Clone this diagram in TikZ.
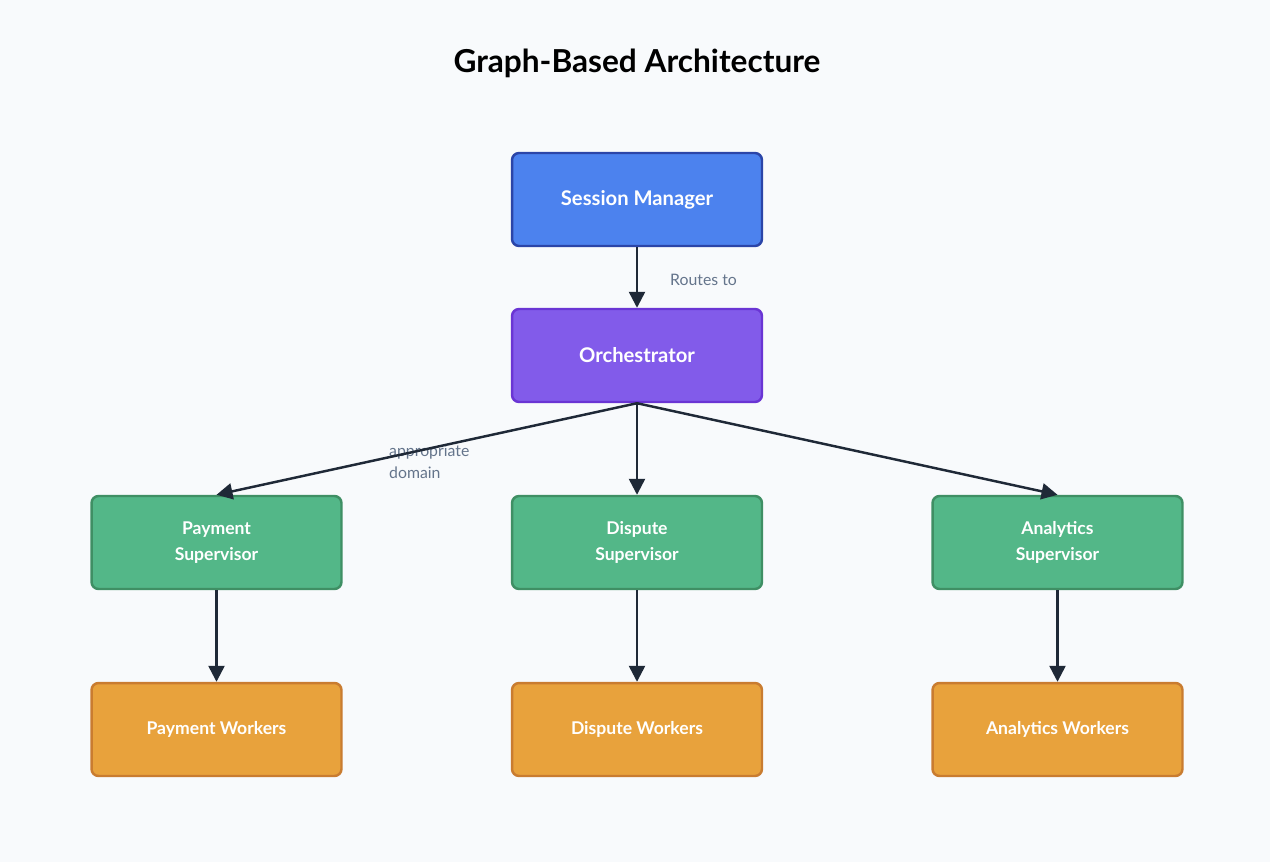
\documentclass[tikz,border=0pt]{standalone}
\usepackage{fontspec}
\setmainfont{Lato}
\usetikzlibrary{arrows.meta,positioning}
\definecolor{bgc}{HTML}{F8FAFC}
\definecolor{linec}{HTML}{1F2937}
\definecolor{labc}{HTML}{64748B}
\definecolor{blueF}{HTML}{4C82EE}
\definecolor{blueD}{HTML}{2B45A8}
\definecolor{purpF}{HTML}{825BEA}
\definecolor{purpD}{HTML}{6A35D4}
\definecolor{greenF}{HTML}{53B788}
\definecolor{greenD}{HTML}{3F8F64}
\definecolor{orF}{HTML}{E8A23C}
\definecolor{orD}{HTML}{C97C30}
\tikzset{
  box/.style={draw, line width=1.4pt, rounded corners=4pt, minimum width=5cm,
    minimum height=1.86cm, text=white, align=center, font=\bfseries},
  top/.style={box, fill=blueF, draw=blueD, font=\bfseries\fontsize{11.5}{14}\selectfont},
  orch/.style={box, fill=purpF, draw=purpD, font=\bfseries\fontsize{11.5}{14}\selectfont},
  sup/.style={box, fill=greenF, draw=greenD, font=\bfseries\fontsize{10}{15}\selectfont},
  work/.style={box, fill=orF, draw=orD, font=\bfseries\fontsize{10}{12}\selectfont},
  arr/.style={-{Triangle[length=0.32cm,width=0.32cm]}, line width=1.4pt, draw=linec},
  lab/.style={text=labc, font=\fontsize{9}{12.5}\selectfont, align=left}
}
\begin{document}
\begin{tikzpicture}[x=0.02cm, y=-0.02cm]
    % background
    \fill[bgc] (0,0) rectangle (1270,862);
    \useasboundingbox (0,0) rectangle (1270,862);

    % title
    \node (title) at (637,63) {\bfseries\fontsize{18}{22}\selectfont Graph-Based Architecture};

    % top levels
    \node[top] (session) at (637,199.5) {Session Manager};
    \node[orch] (orch) at (637,355.5) {Orchestrator};

    % supervisors and workers
    \node[sup] (paysup) at (216.5,542.5) {Payment\\Supervisor};
    \node[sup] (dispsup) at (637,542.5) {Dispute\\Supervisor};
    \node[sup] (anasup) at (1057.5,542.5) {Analytics\\Supervisor};
    \node[work] (paywork) at (216.5,729.5) {Payment Workers};
    \node[work] (dispwork) at (637,729.5) {Dispute Workers};
    \node[work] (anawork) at (1057.5,729.5) {Analytics Workers};

    % labels
    \node[lab, anchor=west] (routes) at (664,280) {Routes to};
    \node[lab, anchor=west] (domain) at (383,462) {appropriate\\domain};

    % connectors
    \draw[arr] (session) -- (orch);
    \draw[arr] (orch.south) -- (paysup.north);
    \draw[arr] (orch.south) -- (dispsup.north);
    \draw[arr] (orch.south) -- (anasup.north);
    \draw[arr] (paysup) -- (paywork);
    \draw[arr] (dispsup) -- (dispwork);
    \draw[arr] (anasup) -- (anawork);
\end{tikzpicture}
\end{document}
